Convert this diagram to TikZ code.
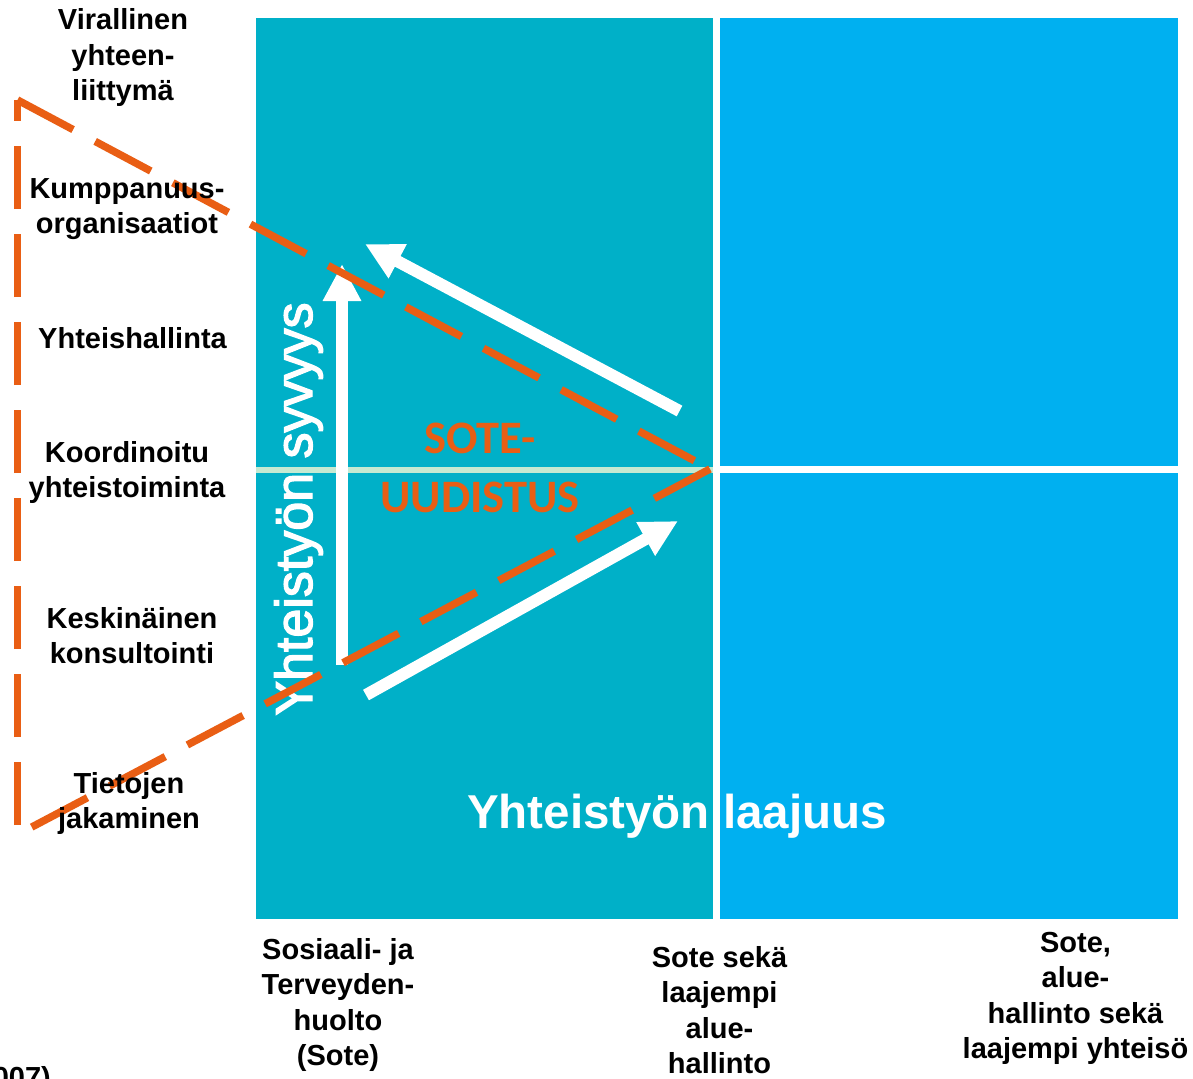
\documentclass[tikz,border=0pt]{standalone}
\usepackage{fontspec}
\setmainfont{Liberation Sans}
\newfontfamily\calib{Carlito}
\newfontfamily\semibold[FakeBold=2.5]{Liberation Sans}
\usetikzlibrary{arrows.meta}
\definecolor{tealpanel}{RGB}{0,176,200}
\definecolor{bluepanel}{RGB}{0,176,240}
\definecolor{sotorange}{RGB}{233,94,20}
\definecolor{mint}{RGB}{197,234,210}
\newcommand{\lbl}[1]{\begin{tabular}[t]{@{}c@{}}#1\end{tabular}}
\begin{document}
\begin{tikzpicture}[x=1pt,y=-1pt,
 lab/.style={font=\fontsize{29}{35.5}\selectfont\bfseries, inner sep=0pt, anchor=base, text=black},
 dashline/.style={draw=sotorange, line width=7.5pt, dash pattern=on 63pt off 25pt},
 whitearrow/.style={draw=white, line width=12pt, -{Triangle[length=37pt,width=36pt]}},
]
\useasboundingbox (0,0) rectangle (1193,1078);
\fill[white] (0,0) rectangle (1193,1078);
% panels
\fill[tealpanel] (256,18) rectangle (713,919);
\fill[bluepanel] (720,18) rectangle (1178,919);
\draw[mint, line width=5.5pt] (256,470) -- (713,470);
\draw[white, line width=6.5pt] (716,469.5) -- (1180,469.5);
% white texts
\node[font=\semibold\fontsize{52}{62}\selectfont, text=white, inner sep=0pt, anchor=base, rotate=90] (syv) at (312,509) {Yhteistyön syvyys};
\node[font=\bfseries\fontsize{47.5}{57}\selectfont, text=white, inner sep=0pt, anchor=base] (laaj) at (677,828) {Yhteistyön laajuus};
\node[font=\calib\bfseries\fontsize{46.5}{59}\selectfont, text=sotorange, inner sep=0pt, anchor=base] (sote) at (480,453) {\lbl{SOTE-\\UUDISTUS}};
% arrows
\coordinate (va0) at (342,665); \coordinate (va1) at (342,264);
\coordinate (ua0) at (679.5,411); \coordinate (ua1) at (365,244);
\coordinate (la0) at (366,695); \coordinate (la1) at (678,521);
\draw[whitearrow] (va0) -- (va1);
\draw[whitearrow] (ua0) -- (ua1);
\draw[whitearrow] (la0) -- (la1);
% dashed triangle
\coordinate (cornerbot) at (17.5,825);
\coordinate (cornertop) at (17.5,100);
\coordinate (apex) at (710,469);
\coordinate (lowend) at (30,828);
\draw[dashline] (cornerbot) -- (cornertop);
\draw[dashline] (cornertop) -- (apex);
\draw[dashline] (apex) -- (lowend);
% labels
\node[lab] (viral) at (123,30) {\lbl{Virallinen\\yhteen-\\liittymä}};
\node[lab] (kump) at (127,198) {\lbl{Kumppanuus-\\organisaatiot}};
\node[lab] (yhhal) at (132.5,348) {\lbl{Yhteishallinta}};
\node[lab] (koord) at (127,462) {\lbl{Koordinoitu\\yhteistoiminta}};
\node[lab] (kesk) at (132,628) {\lbl{Keskinäinen\\konsultointi}};
\node[lab] (tiet) at (129,793) {\lbl{Tietojen\\jakaminen}};
\node[lab] (sos) at (338,959) {\lbl{Sosiaali- ja\\Terveyden-\\huolto\\(Sote)}};
\node[lab] (sote2) at (719.5,967) {\lbl{Sote sekä\\laajempi\\alue-\\hallinto}};
\node[lab] (sote3) at (1075.5,952) {\lbl{Sote,\\alue-\\hallinto sekä\\laajempi yhteisö}};
\node[lab, anchor=base east] (year) at (51,1087) {(2007)};
\end{tikzpicture}
\end{document}
